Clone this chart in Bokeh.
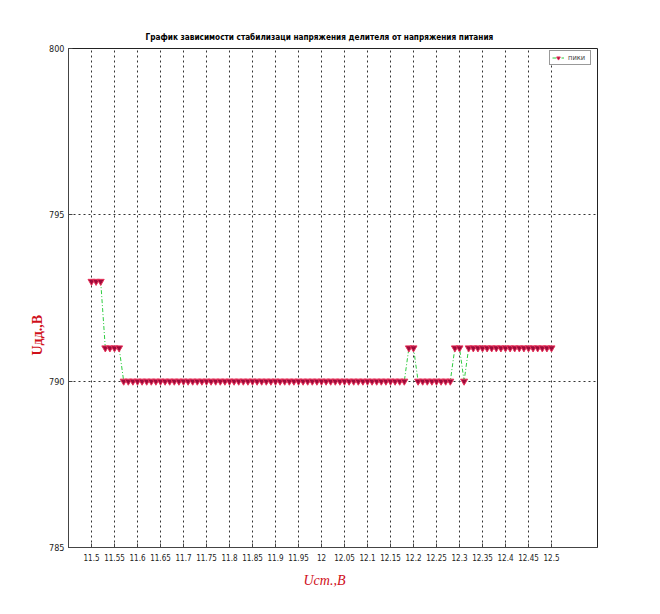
from bokeh.plotting import figure
from bokeh.models import Range1d, FixedTicker, Title
from bokeh.embed import file_html
from bokeh.resources import INLINE

# ---- data ----
x_vals = [11.50, 11.51, 11.52, 11.53, 11.54, 11.55, 11.56, 11.57, 11.58, 11.59,
          11.60, 11.61, 11.62, 11.63, 11.64, 11.65, 11.66, 11.67, 11.68, 11.69,
          11.70, 11.71, 11.72, 11.73, 11.74, 11.75, 11.76, 11.77, 11.78, 11.79,
          11.80, 11.81, 11.82, 11.83, 11.84, 11.85, 11.86, 11.87, 11.88, 11.89,
          11.90, 11.91, 11.92, 11.93, 11.94, 11.95, 11.96, 11.97, 11.98, 11.99,
          12.00, 12.01, 12.02, 12.03, 12.04, 12.05, 12.06, 12.07, 12.08, 12.09,
          12.10, 12.11, 12.12, 12.13, 12.14, 12.15, 12.16, 12.17, 12.18, 12.19,
          12.20, 12.21, 12.22, 12.23, 12.24, 12.25, 12.26, 12.27, 12.28, 12.29,
          12.30, 12.31, 12.32, 12.33, 12.34, 12.35, 12.36, 12.37, 12.38, 12.39,
          12.40, 12.41, 12.42, 12.43, 12.44, 12.45, 12.46, 12.47, 12.48, 12.49,
          12.50]
y_vals = [793, 793, 793, 791, 791, 791, 791, 790, 790, 790,
          790, 790, 790, 790, 790, 790, 790, 790, 790, 790,
          790, 790, 790, 790, 790, 790, 790, 790, 790, 790,
          790, 790, 790, 790, 790, 790, 790, 790, 790, 790,
          790, 790, 790, 790, 790, 790, 790, 790, 790, 790,
          790, 790, 790, 790, 790, 790, 790, 790, 790, 790,
          790, 790, 790, 790, 790, 790, 790, 790, 790, 791,
          791, 790, 790, 790, 790, 790, 790, 790, 790, 791,
          791, 790, 791, 791, 791, 791, 791, 791, 791, 791,
          791, 791, 791, 791, 791, 791, 791, 791, 791, 791,
          791]
x_ticks = [11.5, 11.55, 11.6, 11.65, 11.7, 11.75, 11.8, 11.85, 11.9, 11.95,
           12.0, 12.05, 12.1, 12.15, 12.2, 12.25, 12.3, 12.35, 12.4, 12.45, 12.5]
x_tick_labels = ["11.5", "11.55", "11.6", "11.65", "11.7", "11.75", "11.8", "11.85",
                 "11.9", "11.95", "12", "12.05", "12.1", "12.15", "12.2", "12.25",
                 "12.3", "12.35", "12.4", "12.45", "12.5"]
y_ticks = [785, 790, 795, 800]
series_name = "пики"
title_text = "График зависимости стабилизаци напряжения делителя от напряжения питания"
x_label = "Uст.,В"
y_label = "Uдд.,В"

COND = "DejaVu Sans Condensed"
RED = "#d0101a"

p = figure(width=652, height=606, output_backend="svg", toolbar_location=None,
           x_range=Range1d(11.45, 12.6), y_range=Range1d(785, 800),
           min_border_left=68, min_border_right=55, min_border_top=48, min_border_bottom=59)
p.background_fill_color = "white"
p.border_fill_color = "white"
p.outline_line_color = "#222222"
p.outline_line_width = 1

# title
p.title.text = title_text
p.title.align = "left"
p.title.offset = 77
p.title.standoff = 13
p.title.text_font = COND
p.title.text_font_style = "bold"
p.title.text_font_size = "8.2px"
p.title.text_color = "black"

# axes
p.xaxis.ticker = FixedTicker(ticks=x_ticks)
p.xaxis.major_label_overrides = {t: l for t, l in zip(x_ticks, x_tick_labels)}
p.yaxis.ticker = FixedTicker(ticks=y_ticks)
for ax in (p.xaxis, p.yaxis):
    ax.major_label_text_font = COND
    ax.major_label_text_color = "#222222"
    ax.major_tick_in = 4
    ax.major_tick_out = 0
    ax.minor_tick_in = 0
    ax.minor_tick_out = 0
    ax.axis_line_color = "#444444"
    ax.major_tick_line_color = "#444444"
p.xaxis.major_label_text_font_size = "8px"
p.yaxis.major_label_text_font_size = "9px"
p.xaxis.major_label_standoff = 6
p.yaxis.major_label_standoff = 4

# axis labels as side titles (positioned like the reference)
p.add_layout(Title(text=x_label, align="left", offset=235, standoff=15,
                   text_font="Liberation Serif", text_font_style="italic",
                   text_font_size="14px", text_color=RED), "below")
p.add_layout(Title(text=y_label, align="left", offset=192, standoff=4,
                   text_font="Liberation Serif", text_font_style="bold",
                   text_font_size="14px", text_color=RED), "left")

# grid
p.xgrid.grid_line_color = "#333333"
p.xgrid.grid_line_dash = "2 3"
p.ygrid.grid_line_color = "#333333"
p.ygrid.grid_line_dash = "2 3"

# data
p.line(x_vals, y_vals, line_color="#2ecc40", line_width=1, line_dash="4 2 1 2",
       legend_label=series_name)
p.scatter(x_vals, y_vals, marker="inverted_triangle", size=7,
          fill_color="#9b0b3b", line_color="#e8325a", line_width=1,
          legend_label=series_name)

# legend
lg = p.legend[0]
lg.location = (481, 482)
lg.margin = 0
lg.padding = 2
lg.spacing = 0
lg.glyph_width = 12
lg.glyph_height = 9
lg.label_height = 9
lg.label_standoff = 4
lg.label_text_font = COND
lg.label_text_font_size = "7.5px"
lg.border_line_color = "#333333"
lg.background_fill_alpha = 1

open("out.html", "w").write(file_html(p, INLINE))
